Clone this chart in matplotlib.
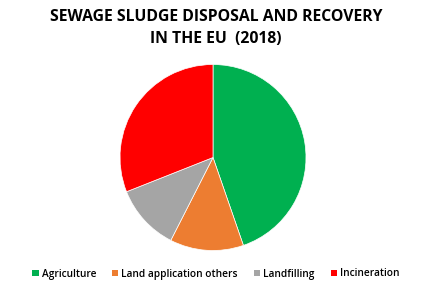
import matplotlib
matplotlib.use("Agg")
import matplotlib.pyplot as plt
from matplotlib.patches import Patch

categories = ["Agriculture", "Land application others", "Landfilling", "Incineration"]
values = [44.7, 12.8, 11.5, 31.0]
colors = ["#00B050", "#ED7D31", "#A5A5A5", "#FF0000"]
title = "SEWAGE SLUDGE DISPOSAL AND RECOVERY\nIN THE EU  (2018)"

plt.rcParams['font.family'] = ['Open Sans', 'DejaVu Sans']
fig = plt.figure(figsize=(4.32, 2.91), dpi=100)
ax = fig.add_axes([(213.0 - 93) / 432, 1 - (157.5 + 93) / 291, 186 / 432, 186 / 291])
ax.pie(values, colors=colors, startangle=90, counterclock=False,
       wedgeprops=dict(edgecolor="white", linewidth=0.5))
ax.set_xlim(-1, 1)
ax.set_ylim(-1, 1)
ax.set_aspect("equal")

fig.text(0.5, 1 - 28 / 291, title, ha="center", va="center", fontsize=11.3,
         fontweight="bold", linespacing=1.55)

handles = [Patch(facecolor=c, edgecolor="none") for c in colors]
fig.legend(handles, categories, loc="center", bbox_to_anchor=(0.5, 1 - 274 / 291),
           ncol=4, frameon=False, handlelength=0.6, handleheight=0.6,
           handletextpad=0.3, columnspacing=1.6,
           prop=dict(size=7.3, weight="semibold"))

fig.savefig("out.png", dpi=100)
